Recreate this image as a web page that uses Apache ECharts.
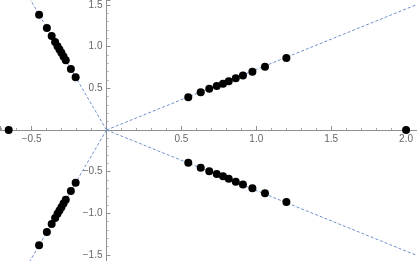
<!DOCTYPE html>
<html><head><meta charset="utf-8">
<script src="https://cdn.jsdelivr.net/npm/echarts@6/dist/echarts.min.js"></script>
<style>html,body{margin:0;padding:0;background:#fff}#c{width:417px;height:261px}</style>
</head><body><div id="c"></div>
<script>
// Points (x, y)
const upperRight = [[0.546,0.392],[0.629,0.452],[0.686,0.494],[0.736,0.528],[0.778,0.556],[0.816,0.586],[0.863,0.620],[0.911,0.655],[0.974,0.698],[1.058,0.758],[1.201,0.864]];
const lowerRight = [[0.546,-0.392],[0.629,-0.452],[0.686,-0.494],[0.736,-0.528],[0.778,-0.556],[0.816,-0.586],[0.863,-0.620],[0.911,-0.655],[0.974,-0.698],[1.058,-0.758],[1.201,-0.864]];
const upperLeft = [[-0.450,1.384],[-0.398,1.224],[-0.366,1.128],[-0.343,1.056],[-0.327,1.006],[-0.314,0.966],[-0.301,0.926],[-0.287,0.882],[-0.272,0.838],[-0.238,0.732],[-0.206,0.634]];
const lowerLeft = [[-0.450,-1.384],[-0.398,-1.224],[-0.366,-1.128],[-0.343,-1.056],[-0.327,-1.006],[-0.314,-0.966],[-0.301,-0.926],[-0.287,-0.882],[-0.272,-0.838],[-0.238,-0.732],[-0.206,-0.634]];
const onAxis = [[-0.653,0],[2.0,0]];
// Dashed rays from the origin (degrees)
const rayAngles = [36, -36, 108, -108];
// Tick labels
const xTicks = [-0.5, 0.5, 1.0, 1.5, 2.0];
const yTicks = [-1.5, -1.0, -0.5, 0.5, 1.0, 1.5];
const xRange = [-0.711, 2.073];
const yRange = [-1.572, 1.56];

const chart = echarts.init(document.getElementById('c'), null, {renderer:'canvas'});
function fmt(ticks){
  return function(v){
    const n = Number(v);
    return ticks.some(t => Math.abs(t - n) < 1e-6) ? n.toFixed(1).replace('-', '\u2212') : '';
  };
}
const AX = '#8f8f8f';
const labelStyle = {color: '#666', fontSize: 10, fontFamily: 'Liberation Sans'};
const hiddenAxis = {type: 'value', show: false, splitLine: {show: false}};
const R = 4;
const raySeries = rayAngles.map(a => ({
  type: 'line',
  data: [[0, 0], [R * Math.cos(a * Math.PI / 180), R * Math.sin(a * Math.PI / 180)]],
  showSymbol: false, symbol: 'none', clip: true, silent: true,
  lineStyle: {color: '#6f93cc', width: 1, type: [3, 2]}, z: 1
}));
const pointSeries = [upperRight, lowerRight, upperLeft, lowerLeft, onAxis].map(d => ({
  type: 'scatter', data: d, symbol: 'circle', symbolSize: 8,
  itemStyle: {color: '#000', opacity: 1}, clip: false, z: 3
}));
const base = {
  animation: false,
  backgroundColor: '#fff',
  grid: [{left: 0, right: 0, top: 0, bottom: 0, containLabel: false, outerBoundsMode: 'none'}],
  xAxis: [Object.assign({}, hiddenAxis, {gridIndex: 0, min: xRange[0], max: xRange[1]})],
  yAxis: [Object.assign({}, hiddenAxis, {gridIndex: 0, min: yRange[0], max: yRange[1]})],
  series: raySeries.concat(pointSeries)
};
chart.setOption(base);
// origin pixel, from the data scales
const o = chart.convertToPixel({xAxisIndex: 0, yAxisIndex: 0}, [0, 0]);
const W = chart.getWidth(), H = chart.getHeight();
const visAxis = {
  type: 'value', splitNumber: 5,
  axisLine: {show: true, onZero: false, lineStyle: {color: AX, width: 1}},
  axisTick: {show: true, inside: true, length: 4, lineStyle: {color: AX}},
  minorTick: {show: true, splitNumber: 5, length: 2, lineStyle: {color: '#a8a8a8'}},
  splitLine: {show: false}, minorSplitLine: {show: false}
};
chart.setOption({
  grid: [
    {left: 0, right: 0, top: 0, bottom: 0, containLabel: false, outerBoundsMode: 'none'},
    {left: 0, right: 0, top: 0, height: o[1], containLabel: false, outerBoundsMode: 'none'},
    {left: o[0], width: W - o[0], top: 0, bottom: 0, containLabel: false, outerBoundsMode: 'none'}
  ],
  xAxis: [
    Object.assign({}, hiddenAxis, {gridIndex: 0, min: xRange[0], max: xRange[1]}),
    Object.assign({}, visAxis, {gridIndex: 1, position: 'bottom', min: xRange[0], max: xRange[1],
      axisLabel: Object.assign({show: true, margin: 4, showMinLabel: false, showMaxLabel: false, formatter: fmt(xTicks)}, labelStyle)}),
    Object.assign({}, hiddenAxis, {gridIndex: 2, min: 0, max: 1})
  ],
  yAxis: [
    Object.assign({}, hiddenAxis, {gridIndex: 0, min: yRange[0], max: yRange[1]}),
    Object.assign({}, hiddenAxis, {gridIndex: 1, min: 0, max: 1}),
    Object.assign({}, visAxis, {gridIndex: 2, position: 'left', min: yRange[0], max: yRange[1],
      axisLabel: Object.assign({show: true, margin: 4, showMinLabel: false, showMaxLabel: false, formatter: fmt(yTicks)}, labelStyle)})
  ]
});
</script>
</body></html>
